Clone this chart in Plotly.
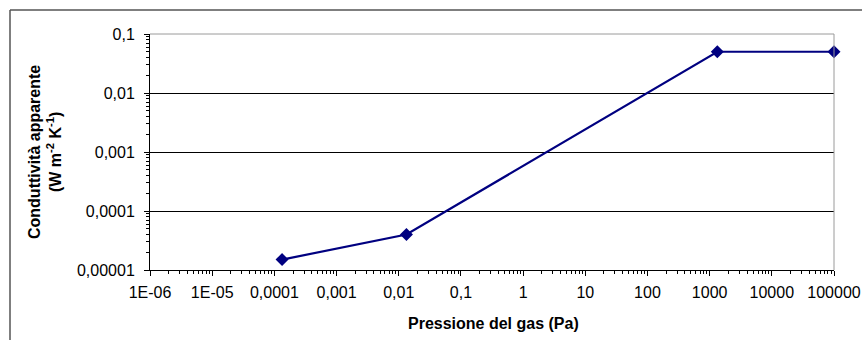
import plotly.graph_objects as go

# Apparent conductivity vs gas pressure
pressione = [1.33e-4, 1.33e-2, 1.33e3, 1.0e5]
conduttivita = [1.5e-5, 4.0e-5, 0.05, 0.05]

x_tickvals = [1e-6, 1e-5, 1e-4, 1e-3, 1e-2, 1e-1, 1, 10, 100, 1000, 10000, 100000]
x_ticktext = ["1E-06", "1E-05", "0,0001", "0,001", "0,01", "0,1", "1", "10", "100",
              "1000", "10000", "100000"]
y_tickvals = [1e-5, 1e-4, 1e-3, 1e-2, 1e-1]
y_ticktext = ["0,00001", "0,0001", "0,001", "0,01", "0,1"]

W, H = 862, 340
L, R, T, B = 150, 28, 34, 70

def minor_vals(lo, hi):
    return [k * 10.0 ** d for d in range(lo, hi) for k in range(2, 10)]

font = "Liberation Sans, Arial, sans-serif"

fig = go.Figure()
fig.add_trace(go.Scatter(
    x=pressione, y=conduttivita, mode="lines+markers",
    line=dict(color="#000080", width=2.2),
    marker=dict(symbol="diamond", size=10, color="#000080"),
    showlegend=False, cliponaxis=False,
))

fig.update_xaxes(
    type="log", range=[-6, 5], automargin=False,
    tickmode="array", tickvals=x_tickvals, ticktext=x_ticktext,
    ticks="outside", ticklen=5, tickcolor="black", tickwidth=1,
    showline=True, linecolor="black", linewidth=1,
    showgrid=False, zeroline=False,
    minor=dict(tickmode="array", tickvals=minor_vals(-6, 5), ticks="outside",
               ticklen=3, tickcolor="black", showgrid=False),
    tickfont=dict(family=font, size=16, color="black"),
    ticklabelstandoff=3,
)
fig.update_yaxes(
    type="log", range=[-5, -1], automargin=False,
    tickmode="array", tickvals=y_tickvals, ticktext=y_ticktext,
    ticks="outside", ticklen=5, tickcolor="black", tickwidth=1,
    showline=True, linecolor="black", linewidth=1,
    showgrid=True, gridcolor="black", gridwidth=1, zeroline=False,
    minor=dict(tickmode="array", tickvals=minor_vals(-5, -1), ticks="outside",
               ticklen=3, tickcolor="black", showgrid=False),
    tickfont=dict(family=font, size=16, color="black"),
    ticklabelstandoff=6,
)

def px(xp):
    return (xp - L) / (W - L - R)

def py(yp):
    return (H - B - yp) / (H - T - B)

fig.update_layout(
    width=W, height=H,
    margin=dict(l=L, r=R, t=T, b=B),
    paper_bgcolor="white", plot_bgcolor="white",
    shapes=[
        # plot-area frame (top and right edges)
        dict(type="line", xref="paper", yref="paper", x0=0, x1=1, y0=1, y1=1,
             line=dict(color="#9a9a9a", width=1), layer="above"),
        dict(type="line", xref="paper", yref="paper", x0=1, x1=1, y0=0, y1=1,
             line=dict(color="#9a9a9a", width=1), layer="above"),
        # outer chart frame
        dict(type="line", xref="paper", yref="paper", x0=px(10), x1=px(W + 5),
             y0=py(10), y1=py(10), line=dict(color="#555555", width=1.5)),
        dict(type="line", xref="paper", yref="paper", x0=px(10), x1=px(10),
             y0=py(10), y1=py(H + 5), line=dict(color="#555555", width=1.5)),
    ],
    annotations=[
        dict(text="<b>Conduttività apparente</b><br><b>(W m<sup>-2</sup> K<sup>-1</sup>)</b>",
             xref="paper", yref="paper", x=px(45), y=py(152),
             xanchor="center", yanchor="middle", textangle=-90, showarrow=False,
             font=dict(family=font, size=16, color="black")),
        dict(text="<b>Pressione del gas (Pa)</b>",
             xref="paper", yref="paper", x=px(493), y=py(323),
             xanchor="center", yanchor="middle", showarrow=False,
             font=dict(family=font, size=16, color="black")),
    ],
)

fig.write_html("out.html")
